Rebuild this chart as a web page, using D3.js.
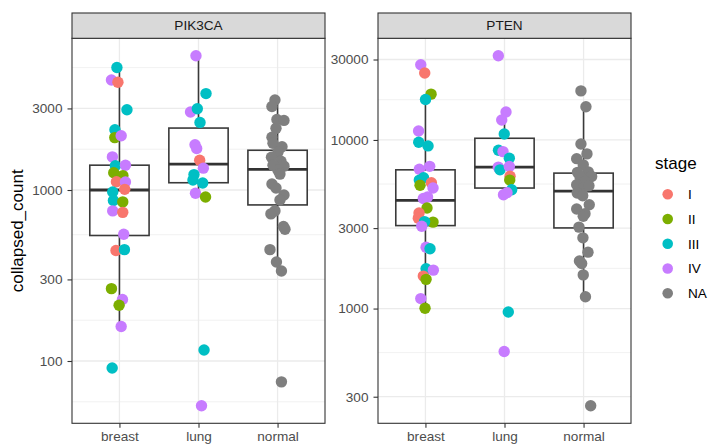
<!DOCTYPE html>
<html>
<head>
<meta charset="utf-8">
<script src="https://cdn.jsdelivr.net/npm/d3@7"></script>
<style>
  body { margin: 0; background: #fff; }
  svg { font-family: 'Liberation Sans', Arial, sans-serif; display: block; }
</style>
</head>
<body>
<div id="chart"></div>
<script>
/* global d3 */

/* -----------------    DATA     ------------------ */

const genes = ['PIK3CA', 'PTEN'];
const tissues = ['breast', 'lung', 'normal'];
const stages = ['I', 'II', 'III', 'IV', 'NA'];

const pik3caTicks = [100, 300, 1000, 3000];
const ptenTicks = [300, 1000, 3000, 10000, 30000];

// [collapsed_count, stage, jitter (category units)]
const pik3caBreast = [
    [5210, 'III', -0.032], [4401, 'IV', -0.101], [4264, 'I', -0.019], [2946, 'III', 0.095],
    [2254, 'III', -0.057], [2025, 'II', -0.059], [2075, 'IV', 0.022], [1562, 'IV', -0.089],
    [1388, 'III', -0.051], [1397, 'IV', 0.076], [1261, 'II', -0.072], [1214, 'II', 0.044],
    [1117, 'I', -0.038], [1113, 'IV', 0.076], [1009, 'I', 0.067], [973, 'III', -0.085],
    [869, 'III', -0.076], [852, 'II', 0.042], [755, 'IV', -0.085], [740, 'I', 0.042],
    [551, 'IV', 0.054], [443, 'I', -0.044], [448, 'III', 0.063], [265, 'II', -0.101],
    [229, 'IV', 0.038], [212, 'II', -0.004], [159, 'IV', 0.022], [91, 'III', -0.092]
];
const pik3caLung = [
    [6094, 'IV', -0.032], [3664, 'III', 0.095], [2860, 'IV', -0.101], [2985, 'III', -0.015],
    [2485, 'III', 0.019], [1839, 'IV', -0.044], [1748, 'IV', -0.023], [1494, 'I', 0.015],
    [1342, 'IV', 0.061], [1231, 'III', -0.057], [1143, 'III', -0.070], [1098, 'III', 0.053],
    [957, 'IV', -0.038], [911, 'II', 0.089], [116, 'III', 0.070], [54.7, 'IV', 0.038]
];
const pik3caNormal = [
    [3359, 'NA', -0.033], [3078, 'NA', -0.071], [2587, 'NA', -0.008], [2553, 'NA', 0.081],
    [2294, 'NA', -0.020], [2033, 'NA', -0.071], [1876, 'NA', -0.058], [1790, 'NA', 0.056],
    [1663, 'NA', 0.005], [1556, 'NA', -0.077], [1474, 'NA', 0.043], [1397, 'NA', -0.058],
    [1379, 'NA', 0.081], [1307, 'NA', 0.005], [1239, 'NA', 0.030], [1084, 'NA', -0.071],
    [1027, 'NA', -0.020], [935, 'NA', 0.081], [875, 'NA', 0.030], [755, 'NA', -0.033],
    [725, 'NA', -0.084], [612, 'NA', 0.075], [589, 'NA', 0.094], [448, 'NA', -0.096],
    [379, 'NA', -0.014], [336, 'NA', 0.049], [75.5, 'NA', 0.049]
];

const ptenBreast = [
    [27925, 'IV', -0.059], [24973, 'I', -0.009], [18694, 'II', 0.071], [17393, 'III', 0.001],
    [11303, 'IV', -0.087], [9692, 'III', -0.085], [9218, 'III', 0.033], [6696, 'IV', -0.077],
    [6975, 'IV', 0.054], [5781, 'III', -0.077], [5964, 'III', -0.024], [5385, 'II', -0.068],
    [5572, 'I', 0.075], [5185, 'IV', 0.096], [4494, 'IV', -0.027], [4586, 'IV', 0.027],
    [3950, 'II', 0.020], [3690, 'I', -0.081], [3438, 'I', -0.090], [3256, 'II', 0.096],
    [3279, 'III', -0.011], [3075, 'IV', -0.047], [2311, 'IV', 0.008], [2262, 'III', 0.058],
    [1723, 'III', 0.008], [1690, 'IV', 0.100], [1558, 'I', -0.027], [1490, 'II', 0.008],
    [1146, 'IV', -0.059], [1004, 'II', -0.005]
];
const ptenLung = [
    [31560, 'IV', -0.078], [14637, 'IV', 0.019], [13127, 'IV', -0.035], [10849, 'III', -0.003],
    [8694, 'III', -0.076], [8530, 'IV', -0.019], [7797, 'III', 0.061], [6898, 'IV', -0.078],
    [6650, 'III', -0.057], [6955, 'IV', 0.061], [6087, 'I', 0.070], [5781, 'II', 0.066],
    [5067, 'III', 0.091], [4733, 'IV', -0.013], [4864, 'IV', 0.032], [955, 'III', 0.048],
    [556, 'IV', -0.004]
];
const ptenNormal = [
    [19548, 'NA', -0.033], [15728, 'NA', 0.030], [9471, 'NA', -0.033], [8268, 'NA', 0.043],
    [7745, 'NA', -0.087], [7117, 'NA', -0.004], [6427, 'NA', -0.077], [6471, 'NA', 0.059],
    [6070, 'NA', 0.102], [6070, 'NA', -0.046], [5672, 'NA', 0.018], [5423, 'NA', -0.087],
    [5185, 'NA', -0.004], [5350, 'NA', 0.068], [4844, 'NA', -0.080], [4669, 'NA', -0.011],
    [4131, 'NA', 0.072], [3897, 'NA', -0.087], [3655, 'NA', 0.018], [3524, 'NA', -0.004],
    [3042, 'NA', -0.058], [2627, 'NA', -0.008], [2160, 'NA', 0.056], [1915, 'NA', -0.052],
    [1852, 'NA', -0.024], [1584, 'NA', -0.004], [1174, 'NA', 0.024], [265, 'NA', 0.090]
];

// boxplot summary per tissue: [lower whisker, q1, median, q3, upper whisker]
const pik3caBoxes = [
    [159, 542, 1000, 1397, 5210],
    [911, 1103, 1416, 2303, 6094],
    [336, 818, 1319, 1708, 3359]
];
const ptenBoxes = [
    [1004, 3105, 4380, 6650, 17393],
    [4733, 5185, 6898, 10233, 14637],
    [1174, 3008, 4977, 6358, 15728]
];

/* -----------------    CONSTANTS     ------------------ */

const graphSettings = {

    // SVG
    svgWidth: 708,
    svgHeight: 444,

    // Panels
    panelLeft: [72, 378],
    panelWidth: 253,
    panelTop: 38.3,
    panelBottom: 423.3,
    stripTop: 13,
    tickLength: 4.5,

    // Marks
    pointRadius: 5.7,
    keyRadius: 5.3,
    boxWidth: 0.75,
    boxStroke: 1.6,

    // Colors
    stageColors: ['#F8766D', '#7CAE00', '#00BFC4', '#C77CFF', '#7F7F7F'],
    gridColor: '#EBEBEB',
    frameColor: '#333333',
    boxColor: '#3A3A3A',
    stripFill: '#D9D9D9',
    tickText: '#4D4D4D'
};

const panelData = {
    PIK3CA: { points: [pik3caBreast, pik3caLung, pik3caNormal], boxes: pik3caBoxes, ticks: pik3caTicks },
    PTEN: { points: [ptenBreast, ptenLung, ptenNormal], boxes: ptenBoxes, ticks: ptenTicks }
};

/* -----------------    LOGIC     ------------------ */

const s = graphSettings;

const color = d3.scaleOrdinal()
    .domain(stages)
    .range(s.stageColors);

const svg = d3.select('#chart')
    .append('svg')
    .attr('width', s.svgWidth)
    .attr('height', s.svgHeight);

genes.forEach((gene, i) => drawPanel(gene, i));
drawLegend();

// y axis title
svg.append('text')
    .attr('transform', `translate(23, ${(s.panelTop + s.panelBottom) / 2}) rotate(-90)`)
    .attr('text-anchor', 'middle')
    .attr('font-size', 17)
    .attr('fill', '#000')
    .text('collapsed_count');

function drawPanel(gene, i) {

    const left = s.panelLeft[i];
    const right = left + s.panelWidth;
    const info = panelData[gene];

    const points = tissues.flatMap((t, k) => info.points[k].map(d => ({
        tissue: t, count: d[0], stage: d[1], jitter: d[2]
    })));

    // Scales (log10 with 5% expansion, like ggplot)
    const ext = d3.extent(points, d => Math.log10(d.count));
    const pad = (ext[1] - ext[0]) * 0.05;

    const y = d3.scaleLog()
        .domain([Math.pow(10, ext[0] - pad), Math.pow(10, ext[1] + pad)])
        .range([s.panelBottom, s.panelTop]);

    const x = d3.scalePoint()
        .domain(tissues)
        .range([left, right])
        .padding(0.6);

    const step = x.step();
    const g = svg.append('g');

    // Panel background
    g.append('rect')
        .attr('x', left).attr('y', s.panelTop)
        .attr('width', s.panelWidth).attr('height', s.panelBottom - s.panelTop)
        .attr('fill', '#fff');

    // Minor grid: midpoints between (extended) major breaks in log space
    const lb = info.ticks.map(Math.log10);
    const ext2 = [lb[0] - (lb[1] - lb[0])].concat(lb, [lb[lb.length - 1] + (lb[lb.length - 1] - lb[lb.length - 2])]);
    const minor = d3.pairs(ext2, (a, b) => Math.pow(10, (a + b) / 2))
        .filter(v => v > y.domain()[0] && v < y.domain()[1]);

    g.append('g')
        .selectAll('line')
        .data(minor)
        .enter()
        .append('line')
        .attr('x1', left).attr('x2', right)
        .attr('y1', d => y(d)).attr('y2', d => y(d))
        .attr('stroke', s.gridColor)
        .attr('stroke-width', 0.7);

    g.append('g')
        .selectAll('line')
        .data(info.ticks)
        .enter()
        .append('line')
        .attr('x1', left).attr('x2', right)
        .attr('y1', d => y(d)).attr('y2', d => y(d))
        .attr('stroke', s.gridColor)
        .attr('stroke-width', 1.3);

    g.append('g')
        .selectAll('line')
        .data(tissues)
        .enter()
        .append('line')
        .attr('x1', d => x(d)).attr('x2', d => x(d))
        .attr('y1', s.panelTop).attr('y2', s.panelBottom)
        .attr('stroke', s.gridColor)
        .attr('stroke-width', 1.3);

    // Boxplots
    const half = s.boxWidth * step / 2;
    const boxes = g.append('g')
        .selectAll('g')
        .data(info.boxes)
        .enter()
        .append('g');

    boxes.append('line')
        .attr('x1', (d, k) => x(tissues[k])).attr('x2', (d, k) => x(tissues[k]))
        .attr('y1', d => y(d[3])).attr('y2', d => y(d[4]))
        .attr('stroke', s.boxColor).attr('stroke-width', s.boxStroke);

    boxes.append('line')
        .attr('x1', (d, k) => x(tissues[k])).attr('x2', (d, k) => x(tissues[k]))
        .attr('y1', d => y(d[1])).attr('y2', d => y(d[0]))
        .attr('stroke', s.boxColor).attr('stroke-width', s.boxStroke);

    boxes.append('rect')
        .attr('x', (d, k) => x(tissues[k]) - half)
        .attr('width', half * 2)
        .attr('y', d => y(d[3]))
        .attr('height', d => y(d[1]) - y(d[3]))
        .attr('fill', '#fff')
        .attr('stroke', s.boxColor)
        .attr('stroke-width', s.boxStroke);

    boxes.append('line')
        .attr('x1', (d, k) => x(tissues[k]) - half).attr('x2', (d, k) => x(tissues[k]) + half)
        .attr('y1', d => y(d[2])).attr('y2', d => y(d[2]))
        .attr('stroke', s.frameColor).attr('stroke-width', 2.8);

    // Jittered points
    g.append('g')
        .selectAll('circle')
        .data(points)
        .enter()
        .append('circle')
        .attr('cx', d => x(d.tissue) + d.jitter * step)
        .attr('cy', d => y(d.count))
        .attr('r', s.pointRadius)
        .attr('fill', d => color(d.stage));

    // Panel border
    g.append('rect')
        .attr('x', left).attr('y', s.panelTop)
        .attr('width', s.panelWidth).attr('height', s.panelBottom - s.panelTop)
        .attr('fill', 'none')
        .attr('stroke', s.frameColor)
        .attr('stroke-width', 1.1);

    // Strip
    g.append('rect')
        .attr('x', left).attr('y', s.stripTop)
        .attr('width', s.panelWidth).attr('height', s.panelTop - s.stripTop)
        .attr('fill', s.stripFill)
        .attr('stroke', s.frameColor)
        .attr('stroke-width', 1.1);

    g.append('text')
        .attr('x', (left + right) / 2)
        .attr('y', (s.stripTop + s.panelTop) / 2)
        .attr('dy', '0.35em')
        .attr('text-anchor', 'middle')
        .attr('font-size', 13.6)
        .attr('fill', '#1A1A1A')
        .text(gene);

    // Axes
    const yAxis = d3.axisLeft(y)
        .tickValues(info.ticks)
        .tickFormat(d3.format('d'))
        .tickSize(s.tickLength)
        .tickPadding(5);

    const xAxis = d3.axisBottom(x)
        .tickSize(s.tickLength)
        .tickPadding(4);

    const ya = svg.append('g')
        .attr('transform', `translate(${left}, 0)`)
        .call(yAxis);

    const xa = svg.append('g')
        .attr('transform', `translate(0, ${s.panelBottom})`)
        .call(xAxis);

    [ya, xa].forEach(a => {
        a.select('.domain').remove();
        a.selectAll('line').attr('stroke', s.frameColor).attr('stroke-width', 1.1);
        a.selectAll('text')
            .attr('font-size', 13.6)
            .attr('font-family', "'Liberation Sans', Arial, sans-serif")
            .attr('fill', s.tickText);
    });
}

function drawLegend() {

    const lg = svg.append('g');

    lg.append('text')
        .attr('x', 655)
        .attr('y', 169)
        .attr('font-size', 17)
        .attr('fill', '#000')
        .text('stage');

    const keyY = d3.scalePoint()
        .domain(stages)
        .range([194.3, 293.3]);

    const keys = lg.selectAll('g.key')
        .data(stages)
        .enter()
        .append('g')
        .attr('class', 'key');

    keys.append('circle')
        .attr('cx', 667.7)
        .attr('cy', d => keyY(d))
        .attr('r', s.keyRadius)
        .attr('fill', d => color(d));

    keys.append('text')
        .attr('x', 688)
        .attr('y', d => keyY(d))
        .attr('dy', '0.35em')
        .attr('font-size', 13.6)
        .attr('fill', '#000')
        .text(d => d);
}
</script>
</body>
</html>
